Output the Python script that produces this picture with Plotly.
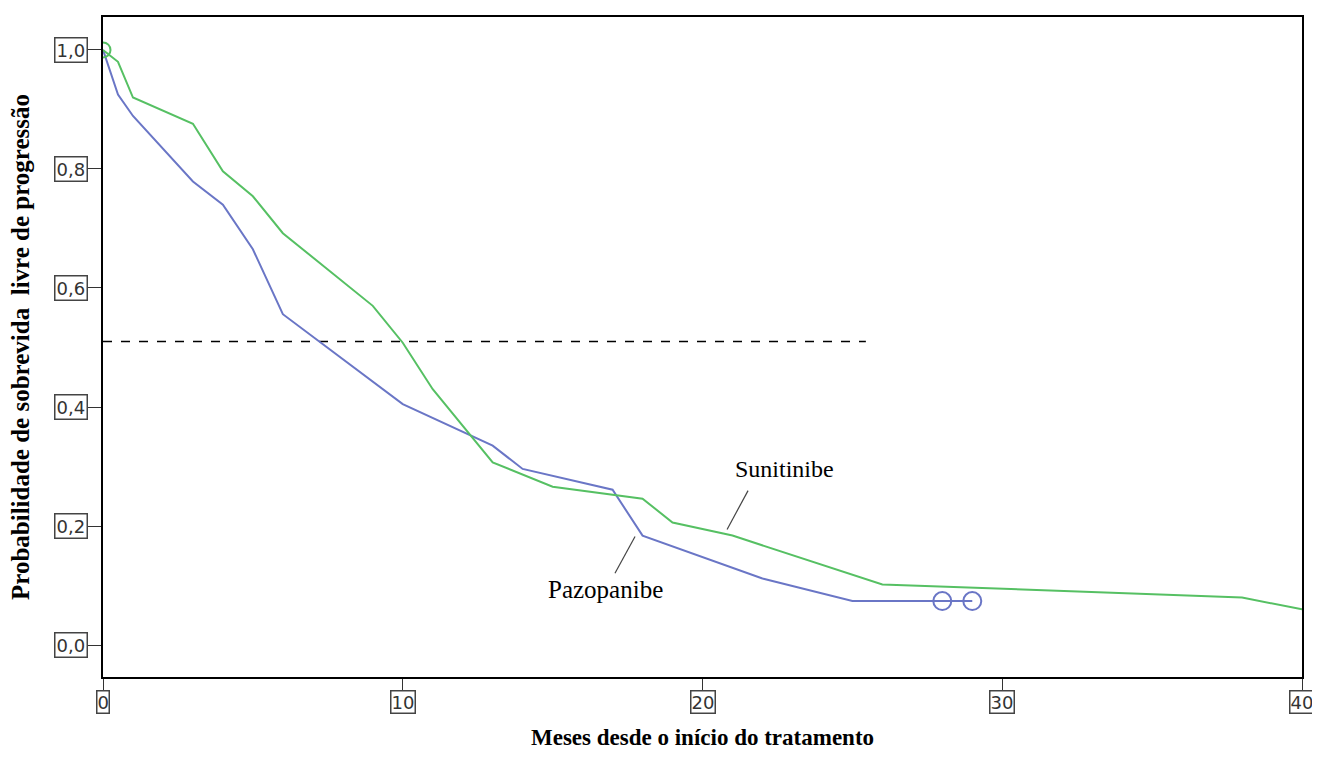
import plotly.graph_objects as go

# Data
suni_x = [0, 0.5, 1, 3, 4, 5, 6, 9, 10, 11, 13, 15, 18, 19, 21, 26, 38, 40]
suni_y = [1.0, 0.98, 0.92, 0.876, 0.796, 0.754, 0.692, 0.57, 0.508, 0.43, 0.307, 0.266, 0.246, 0.206, 0.184, 0.102, 0.08, 0.06]
pazo_x = [0, 0.5, 1, 3, 4, 5, 6, 10, 13, 14, 17, 18, 22, 25, 29]
pazo_y = [1.0, 0.925, 0.889, 0.779, 0.74, 0.665, 0.556, 0.405, 0.335, 0.296, 0.261, 0.184, 0.112, 0.074, 0.074]
pazo_cens_x = [28, 29]
pazo_cens_y = [0.074, 0.074]
suni_cens_x = [0]
suni_cens_y = [1.0]
median_x = [0, 25.45]
median_y = [0.51, 0.51]
x_ticks = [0, 10, 20, 30, 40]
y_ticks = [0.0, 0.2, 0.4, 0.6, 0.8, 1.0]
y_tick_labels = ["0,0", "0,2", "0,4", "0,6", "0,8", "1,0"]

GREEN = "#56c063"
BLUE = "#6a76c6"

fig = go.Figure()
fig.add_trace(go.Scatter(x=median_x, y=median_y, mode="lines",
                         line=dict(color="black", width=1.6, dash="dash"), showlegend=False))
fig.add_trace(go.Scatter(x=pazo_x, y=pazo_y, mode="lines",
                         line=dict(color=BLUE, width=2), showlegend=False))
fig.add_trace(go.Scatter(x=suni_x, y=suni_y, mode="lines",
                         line=dict(color=GREEN, width=2), showlegend=False))
fig.add_trace(go.Scatter(x=pazo_cens_x, y=pazo_cens_y, mode="markers",
                         marker=dict(symbol="circle-open", size=18, color=BLUE, line=dict(width=2)),
                         showlegend=False))
fig.add_trace(go.Scatter(x=suni_cens_x, y=suni_cens_y, mode="markers",
                         marker=dict(symbol="circle-open", size=15, color=GREEN, line=dict(width=2)),
                         showlegend=False))

fig.update_layout(
    width=1304, height=753,
    margin=dict(l=95, r=10, t=7, b=84),
    paper_bgcolor="white", plot_bgcolor="white",
    xaxis=dict(range=[0, 40], showgrid=False, zeroline=False, showline=True, linecolor="black",
               linewidth=2, mirror=True, ticks="outside", ticklen=13, tickcolor="#333",
               tickvals=x_ticks, showticklabels=False),
    yaxis=dict(range=[-0.0536, 1.0553], showgrid=False, zeroline=False, showline=True,
               linecolor="black", linewidth=2, mirror=True, ticks="outside", ticklen=15,
               tickcolor="#333", tickvals=y_ticks, showticklabels=False),
)

tick_font = dict(family="DejaVu Sans", size=18, color="#333")
for v, lab in zip(y_ticks, y_tick_labels):
    fig.add_annotation(x=0, xref="paper", y=v, yref="y", text=lab, showarrow=False,
                       xanchor="right", yanchor="middle", xshift=-15, font=tick_font,
                       bordercolor="#444", borderwidth=1.5, borderpad=1, bgcolor="white")
for v in x_ticks:
    fig.add_annotation(x=v, xref="x", y=0, yref="paper", text=str(v), showarrow=False,
                       xanchor="center", yanchor="top", yshift=-13, font=tick_font,
                       bordercolor="#444", borderwidth=1.5, borderpad=0, bgcolor="white")

fig.add_annotation(x=0.5, xref="paper", y=0, yref="paper", text="<b>Meses desde o início do tratamento</b>",
                   showarrow=False, yanchor="middle", yshift=-60,
                   font=dict(family="Liberation Serif", size=23, color="black"))
fig.add_annotation(x=0, xref="paper", y=0.5, yref="paper", text="<b>Probabilidade de sobrevida  livre de progressão</b>",
                   showarrow=False, textangle=-90, xanchor="center", xshift=-83,
                   font=dict(family="Liberation Serif", size=25, color="black"))

lab_font = dict(family="Liberation Serif", size=24, color="black")
fig.add_annotation(x=22.75, y=0.2965, text="Sunitinibe", showarrow=False, font=lab_font)
fig.add_annotation(x=16.75, y=0.0938, text="Pazopanibe", showarrow=False,
                   font=dict(family="Liberation Serif", size=25, color="black"))
fig.add_shape(type="line", x0=21.52, y0=0.2596, x1=20.82, y1=0.1943, line=dict(color="#444", width=1.2))
fig.add_shape(type="line", x0=17.75, y0=0.1826, x1=17.08, y1=0.1206, line=dict(color="#444", width=1.2))

fig.write_html("out.html")
